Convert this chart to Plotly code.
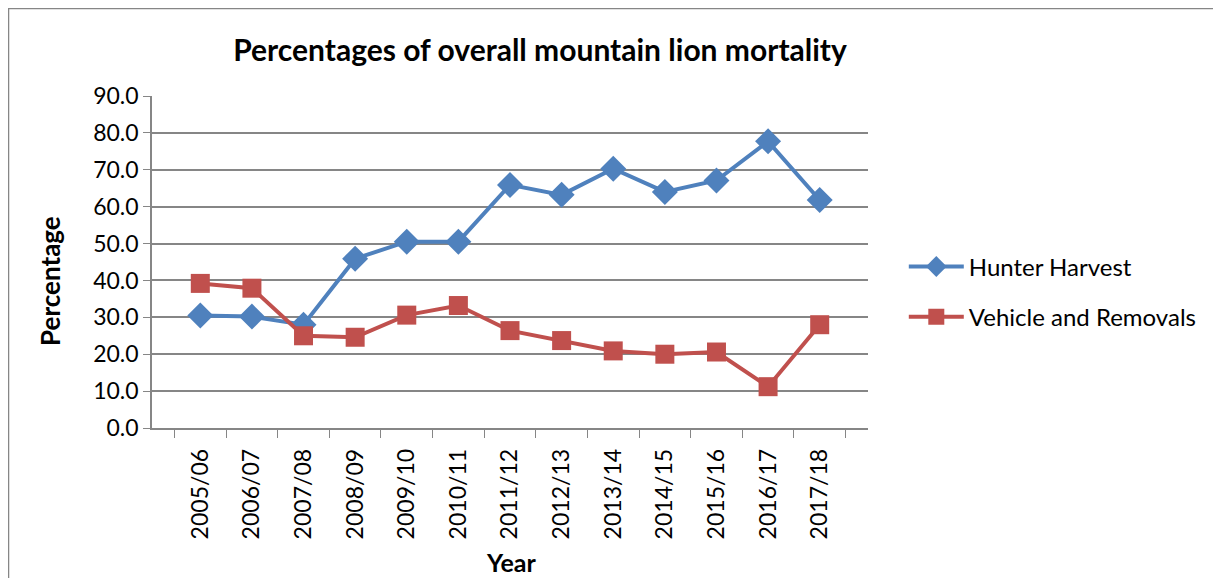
import plotly.graph_objects as go

# data
years = ['2005/06', '2006/07', '2007/08', '2008/09', '2009/10', '2010/11', '2011/12',
         '2012/13', '2013/14', '2014/15', '2015/16', '2016/17', '2017/18']
hunter_harvest = [30.5, 30.2, 28.0, 45.9, 50.5, 50.5, 65.9, 63.2, 70.3, 64.0, 67.1, 77.7, 61.8]
vehicle_removals = [39.2, 37.9, 25.0, 24.6, 30.6, 33.2, 26.4, 23.7, 20.9, 20.0, 20.6, 11.2, 28.0]

font_name = 'Lato, Carlito, Calibri, sans-serif'
grid_col = '#868686'

fig = go.Figure()
fig.add_trace(go.Scatter(x=years, y=hunter_harvest, name='Hunter Harvest',
                         mode='lines+markers', legendgroup='a',
                         line=dict(color='#4F81BD', width=4),
                         marker=dict(symbol='diamond', size=20, color='#4F81BD')))
fig.add_trace(go.Scatter(x=years, y=vehicle_removals, name='Vehicle and Removals',
                         mode='lines+markers', legendgroup='b',
                         line=dict(color='#C0504D', width=4),
                         marker=dict(symbol='square', size=19, color='#C0504D')))

# the page body adds an 8px offset, so the figure is 8px smaller than the window
fig.update_layout(
    width=1213, height=570,
    margin=dict(l=144, r=353, t=88, b=150),
    paper_bgcolor='white', plot_bgcolor='white',
    font=dict(family=font_name, color='black', size=22),
    title=dict(text='<b>Percentages of overall mountain lion mortality</b>',
               x=0.4386, xanchor='center', y=1 - 42 / 570, yanchor='middle',
               font=dict(size=30, family=font_name)),
    legend=dict(x=1.05, xanchor='left', y=0.41, yanchor='middle',
                font=dict(size=24), traceorder='grouped', tracegroupgap=16,
                itemwidth=55),
    showlegend=True,
)

fig.update_xaxes(
    type='category', showgrid=False, showline=True, linecolor=grid_col, linewidth=1.5,
    ticks='outside', tickson='boundaries', ticklen=8, tickcolor=grid_col,
    tickangle=-90, tickfont=dict(size=23), ticklabelstandoff=10, automargin=False,
)
fig.update_yaxes(
    range=[0, 90], dtick=10, tickformat='.1f',
    showgrid=True, gridcolor=grid_col, gridwidth=1.5,
    showline=True, linecolor=grid_col, linewidth=1.5,
    ticks='outside', ticklen=7, tickcolor=grid_col,
    tickfont=dict(size=23), zeroline=False, automargin=False,
)

# axis titles placed as annotations (Excel puts them slightly off-centre)
fig.add_annotation(text='<b>Percentage</b>', xref='paper', yref='paper',
                   x=-0.1425, y=0.443, xanchor='center', yanchor='middle',
                   textangle=-90, showarrow=False, font=dict(size=26))
fig.add_annotation(text='<b>Year</b>', xref='paper', yref='paper',
                   x=0.5014, y=-0.4036, xanchor='center', yanchor='middle',
                   showarrow=False, font=dict(size=25))

# outer chart border
fig.add_shape(type='rect', xref='paper', yref='paper',
              x0=-0.2004, x1=1.52, y0=-0.5, y1=1.2636,
              line=dict(color=grid_col, width=1.5))

fig.write_html('out.html')
